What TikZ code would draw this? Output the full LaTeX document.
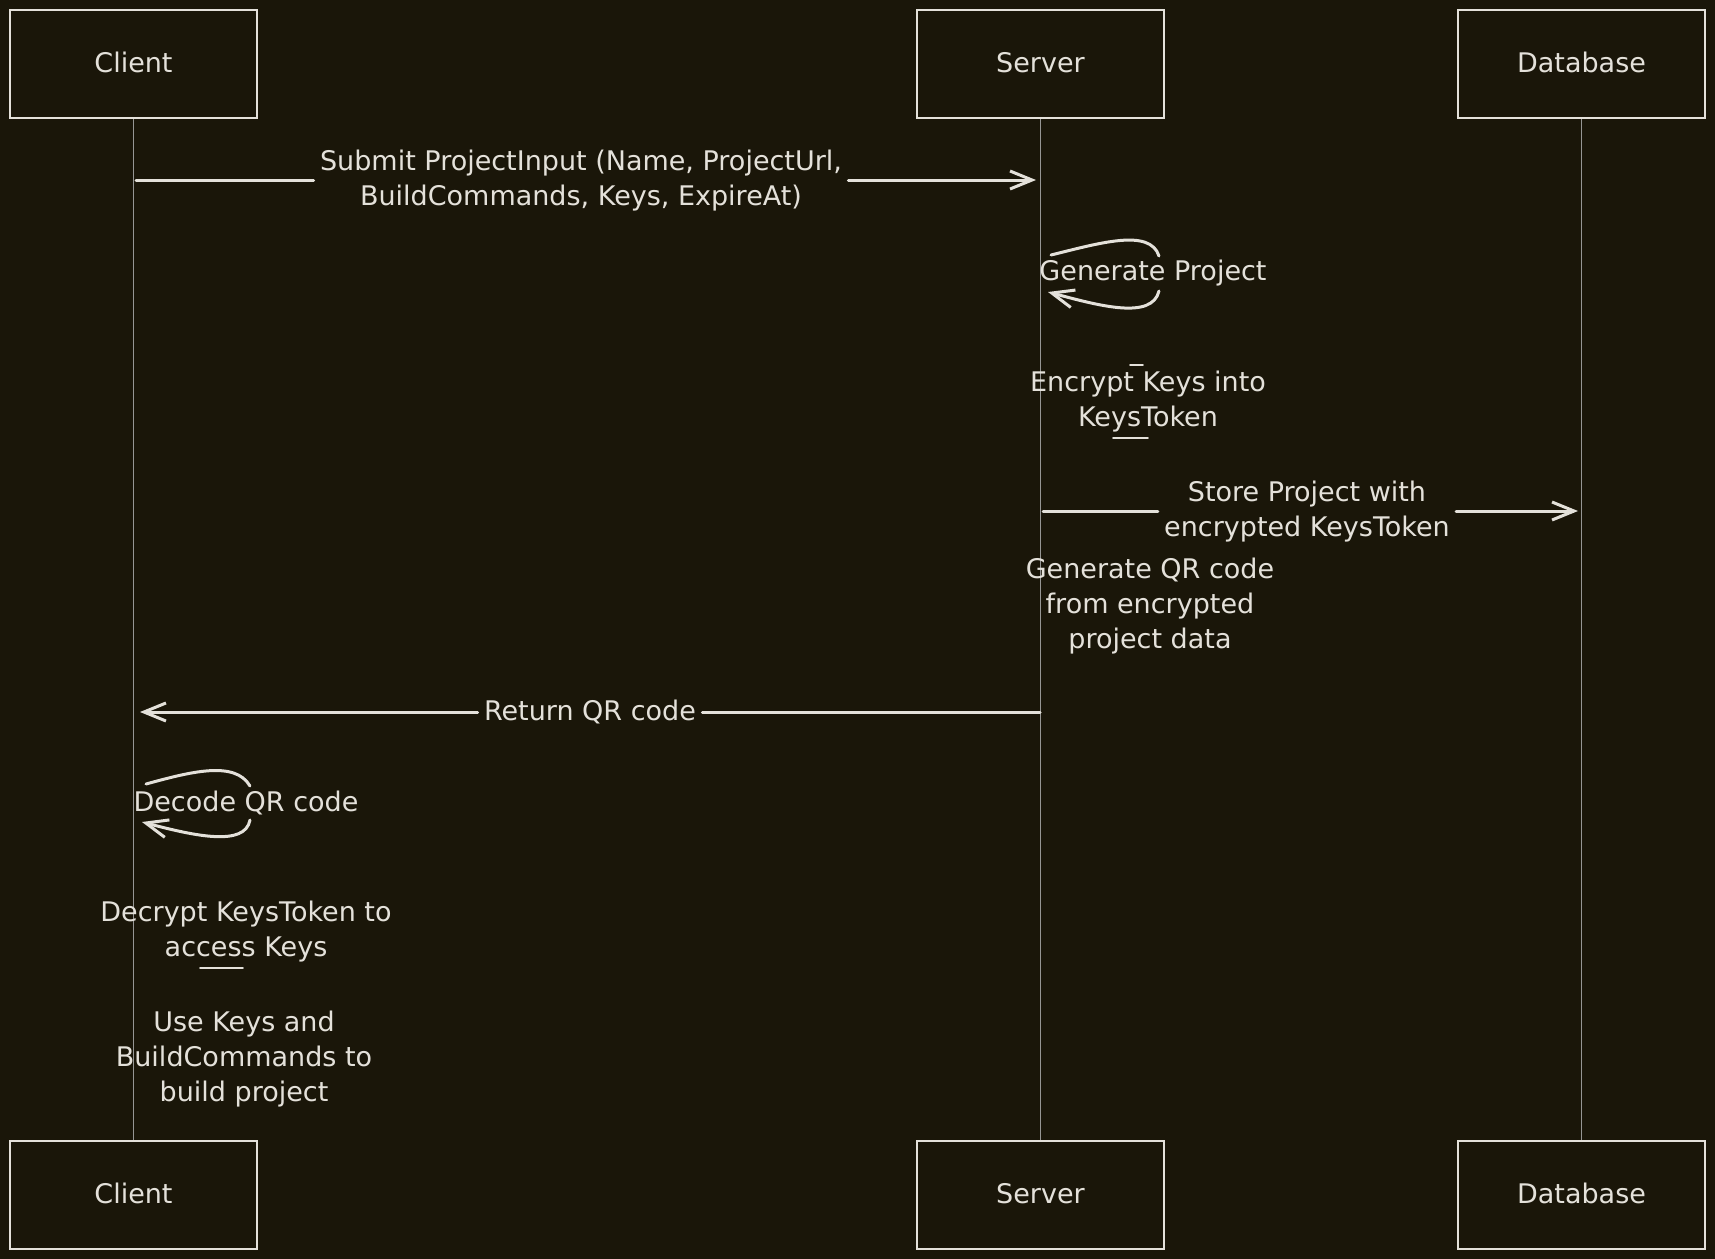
\documentclass[tikz,border=0pt]{standalone}
\usepackage{fontspec}
\setmainfont{DejaVu Sans}
\usetikzlibrary{arrows.meta, calc}
\definecolor{bgcol}{RGB}{26,22,9}
\definecolor{ink}{RGB}{228,225,218}
\definecolor{lifecol}{RGB}{150,150,148}

\begin{document}
\begin{tikzpicture}[x=0.5pt, y=-0.5pt,
	actor/.style={draw=ink, line width=1.2pt, minimum width=123.5pt, minimum height=54pt, text=ink, font=\fontsize{13.5}{17.5}\selectfont},
	lifeline/.style={draw=lifecol, line width=0.85pt},
	msg/.style={draw=ink, line width=1.5pt, line cap=round},
	tip/.style={-{Straight Barb[length=11pt, width=9pt]}},
	msgtext/.style={text=ink, align=center, inner sep=3pt, font=\fontsize{13.5}{17.5}\selectfont}]
	\fill [bgcol] (0,0) rectangle (1715,1259);
	\useasboundingbox (0,0) rectangle (1715,1259);

	\node [actor] (client) at (133.5,64) {\raisebox{2pt}{Client}};
	\node [actor] (server) at (1040.5,64) {\raisebox{2pt}{Server}};
	\node [actor] (db) at (1581.5,64) {\raisebox{2pt}{Database}};
	\node [actor] (client2) at (133.5,1195) {\raisebox{2pt}{Client}};
	\node [actor] (server2) at (1040.5,1195) {\raisebox{2pt}{Server}};
	\node [actor] (db2) at (1581.5,1195) {\raisebox{2pt}{Database}};
	\draw [lifeline] (client) -- (client2);
	\draw [lifeline] (server) -- (server2);
	\draw [lifeline] (db) -- (db2);

	\coordinate (A1) at (136,180);
	\coordinate (B1) at (1036,180);
	\path (581,181) node [msgtext] (submit) {Submit ProjectInput (Name, ProjectUrl,\\BuildCommands, Keys, ExpireAt)};
	\draw [msg] (A1) -- (A1 -| submit.west);
	\draw [msg, tip] (B1 -| submit.east) -- (B1);

	\path (1153,273) node [msgtext] (genproj) {Generate Project};
	\coordinate (G1) at (1051,255);
	\coordinate (G2) at (1159,256);
	\coordinate (G3) at (1159,291);
	\coordinate (G4) at (1048,292);
	\draw [msg] (G1) .. controls (1100,243) and (1150,228) .. (G2);
	\draw [msg, tip] (G3) .. controls (1152,320) and (1100,306) .. (G4);

	\path (1148,402) node [msgtext] (encrypt) {Encrypt Keys into\\KeysToken};
	\draw [msg, line width=0.8pt] (1130,365) -- (1143,365);
	\draw [msg, line width=0.8pt] (1113,438) -- (1148,438);

	\coordinate (A2) at (1043,511);
	\coordinate (B2) at (1578,511);
	\path (1307,512) node [msgtext] (store) {Store Project with\\encrypted KeysToken};
	\draw [msg] (A2) -- (A2 -| store.west);
	\draw [msg, tip] (B2 -| store.east) -- (B2);

	\path (1150,606) node [msgtext] (genqr) {Generate QR code\\from encrypted\\project data};

	\coordinate (A3) at (1040,712);
	\coordinate (B3) at (140,712);
	\path (590,712) node [msgtext] (ret) {Return QR code};
	\draw [msg] (A3) -- (A3 -| ret.east);
	\draw [msg, tip] (B3 -| ret.west) -- (B3);

	\path (246,803) node [msgtext] (decode) {Decode QR code};
	\coordinate (D1) at (146,784);
	\coordinate (D2) at (250,786);
	\coordinate (D3) at (250,820);
	\coordinate (D4) at (142,822);
	\draw [msg] (D1) .. controls (190,772) and (235,760) .. (D2);
	\draw [msg, tip] (D3) .. controls (245,847) and (195,836) .. (D4);

	\path (246,932) node [msgtext] (decrypt) {Decrypt KeysToken to\\access Keys};
	\draw [msg, line width=0.8pt] (200,968) -- (243,968);
	\path (244,1059) node [msgtext] (usekeys) {Use Keys and\\BuildCommands to\\build project};
\end{tikzpicture}
\end{document}
